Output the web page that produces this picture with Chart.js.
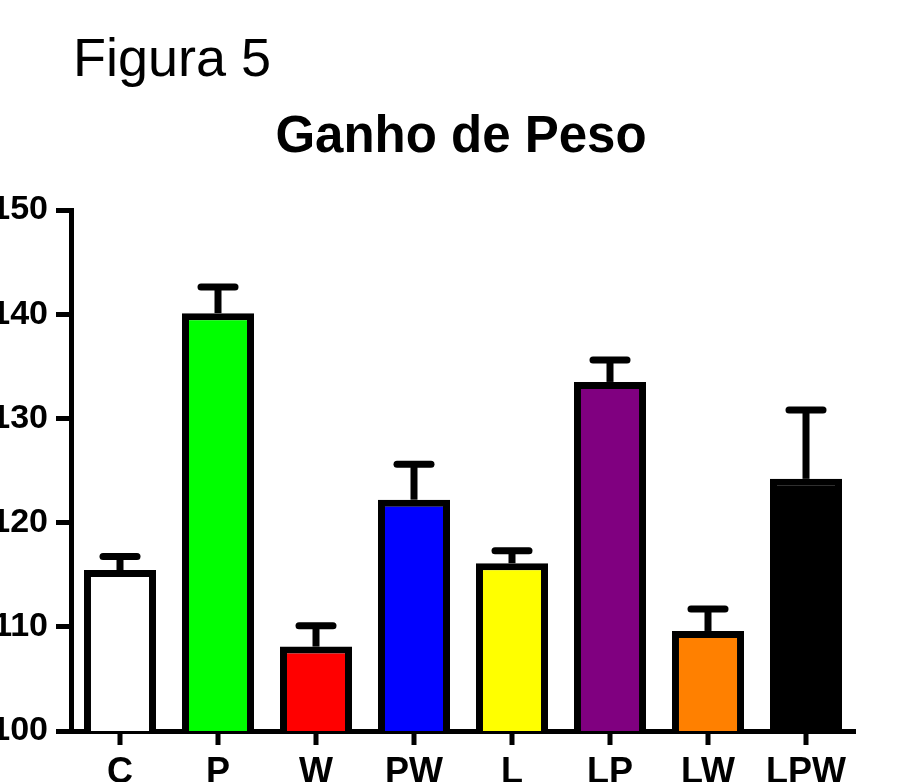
<!DOCTYPE html>
<html>
<head>
<meta charset="utf-8">
<script src="https://cdn.jsdelivr.net/npm/chart.js@4"></script>
<style>
  body { margin: 0; background: #fff; }
  #wrap { position: relative; width: 914px; height: 782px; overflow: hidden; }
  #fig { position: absolute; left: 73px; top: 30px; font: 54px "Liberation Sans", Arial, sans-serif; line-height: 1; color: #000; }
  #title { position: absolute; left: 0; width: 922px; top: 109px; text-align: center; font: bold 51px "Liberation Sans", Arial, sans-serif; line-height: 1; color: #000; }
  canvas { position: absolute; left: 0; top: 0; }
</style>
</head>
<body>
<div id="wrap">
  <div id="fig">Figura 5</div>
  <div id="title">Ganho de Peso</div>
  <canvas id="pesoChart" width="914" height="782"></canvas>
</div>
<script>
// Ganho de peso por grupo (media + EPM)
const groups = ['C', 'P', 'W', 'PW', 'L', 'LP', 'LW', 'LPW'];
const means = [115.45, 140.1, 108.1, 122.2, 116.1, 133.5, 109.6, 124.2];
const sem = [1.3, 2.5, 2.0, 3.4, 1.2, 2.1, 2.1, 6.6];
const barColors = ['#ffffff', '#00ff00', '#ff0000', '#0000ff', '#ffff00', '#800080', '#ff8000', '#000000'];
const yTicks = [100, 110, 120, 130, 140, 150];

// upper error bar (mean + sem) with a rounded cap
const errorBars = {
    id: 'errorBars',
    afterDatasetsDraw(chart) {
        const ctx = chart.ctx;
        const y = chart.scales.y;
        const meta = chart.getDatasetMeta(0);
        ctx.save();
        ctx.strokeStyle = '#000';
        meta.data.forEach((bar, i) => {
            const top = y.getPixelForValue(means[i] + sem[i]);
            ctx.lineWidth = 7;
            ctx.lineCap = 'butt';
            ctx.beginPath();
            ctx.moveTo(bar.x, bar.y);
            ctx.lineTo(bar.x, top);
            ctx.stroke();
            ctx.lineCap = 'round';
            ctx.beginPath();
            ctx.moveTo(bar.x - 17, top);
            ctx.lineTo(bar.x + 17, top);
            ctx.stroke();
        });
        ctx.restore();
    }
};

// tick marks under each category, centred on the label
const centreTicks = {
    id: 'centreTicks',
    afterDraw(chart) {
        const ctx = chart.ctx;
        const x = chart.scales.x;
        const base = chart.chartArea.bottom;
        ctx.save();
        ctx.fillStyle = '#000';
        for (let i = 0; i < groups.length; i++) {
            const px = x.getPixelForValue(i);
            ctx.fillRect(px - 2.5, base, 5, 14);
        }
        ctx.restore();
    }
};

const ctx = document.getElementById('pesoChart').getContext('2d');
new Chart(ctx, {
    type: 'bar',
    data: {
        labels: groups,
        datasets: [{
            data: means,
            backgroundColor: barColors,
            borderColor: '#000',
            borderWidth: 7,
            barPercentage: 0.735,
            categoryPercentage: 1
        }]
    },
    options: {
        responsive: false,
        animation: false,
        layout: { padding: { top: 210, right: 59, bottom: 0, left: 0 } },
        plugins: {
            legend: { display: false },
            tooltip: { enabled: false }
        },
        scales: {
            x: {
                grid: { drawOnChartArea: false, drawTicks: false },
                border: { color: '#000', width: 5 },
                ticks: {
                    color: '#000', padding: 20,
                    font: { family: 'Liberation Sans', size: 36, weight: 'bold' }
                },
                afterFit(scale) { scale.height = 51; }
            },
            y: {
                min: 100,
                max: 150,
                afterBuildTicks(scale) { scale.ticks = yTicks.map(v => ({ value: v })); },
                grid: { drawOnChartArea: false, tickLength: 15, tickWidth: 5, tickColor: '#000' },
                border: { color: '#000', width: 5 },
                ticks: {
                    color: '#000', padding: 8,
                    font: { family: 'Liberation Sans', size: 34, weight: 'bold' }
                },
                afterFit(scale) { scale.width = 71; }
            }
        }
    },
    plugins: [errorBars, centreTicks]
});
</script>
</body>
</html>
